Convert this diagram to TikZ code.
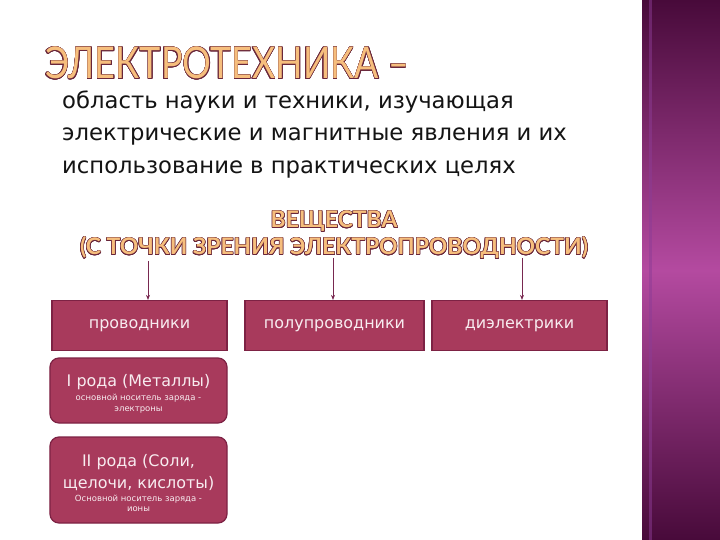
\documentclass[tikz,border=0pt]{standalone}
\usepackage{fontspec}
\setmainfont{DejaVu Sans}
\newfontfamily\titlefont{Lato}
\usepackage{contour}
\contourlength{0.55pt}
\usetikzlibrary{arrows.meta}
\definecolor{bandDark}{RGB}{72,10,58}
\definecolor{bandLight}{RGB}{180,74,160}
\definecolor{bandLine}{RGB}{140,60,150}
\definecolor{boxFill}{RGB}{168,58,92}
\definecolor{boxEdge}{RGB}{125,34,68}
\definecolor{arrowCol}{RGB}{120,40,80}
\definecolor{boxText}{RGB}{248,236,240}
\definecolor{titleFill}{RGB}{246,190,125}
\definecolor{titleEdge}{RGB}{105,38,58}
\definecolor{bodyText}{RGB}{20,20,20}
\tikzset{
  bodyline/.style={anchor=base west, inner sep=0, font=\fontsize{22.8}{26}\selectfont, text=bodyText},
  topbox/.style={draw=boxEdge, line width=1.2pt, fill=boxFill, minimum width=175bp, minimum height=50bp, inner sep=0, text=boxText, font=\fontsize{16}{20}\selectfont},
  lowbox/.style={draw=boxEdge, line width=1.2pt, fill=boxFill, rounded corners=9bp, minimum width=177bp, inner sep=0},
  bigtxt/.style={anchor=base, inner sep=0, text=boxText, font=\fontsize{16}{20}\selectfont},
  smalltxt/.style={anchor=base, inner sep=0, text=boxText, font=\fontsize{8.5}{10}\selectfont},
  conn/.style={draw=arrowCol, line width=0.8pt, -{Stealth[length=5bp,width=4bp]}},
  headtxt/.style={anchor=base, inner sep=0, font=\titlefont\bfseries\fontsize{23}{26}\selectfont},
}
\newcommand{\outl}[1]{\contour{titleEdge}{\textcolor{titleFill}{#1}}}
\begin{document}
\begin{tikzpicture}[x=1bp,y=-1bp]
\useasboundingbox (0,0) rectangle (720,540);
\fill[white] (0,0) rectangle (720,540);
% right band
\shade[top color=bandDark, bottom color=bandLight] (642,0) rectangle (720,270.5);
\shade[top color=bandLight, bottom color=bandDark] (642,270) rectangle (720,540);
\fill[bandLine, opacity=0.5] (648.5,0) rectangle (651.5,540);
% title
\node[anchor=base west, inner sep=0, font=\titlefont\fontsize{44}{48}\selectfont] (title) at (45,79) {\scalebox{0.82}[1]{\outl{ЭЛЕКТРОТЕХНИКА –}}};
% body
\node[bodyline] (l1) at (62,109) {область науки и техники, изучающая};
\node[bodyline] (l2) at (62,141) {электрические и магнитные явления и их};
\node[bodyline] (l3) at (62,174) {использование в практических целях};
% heading
\node[headtxt] (h1) at (334,228) {\outl{ВЕЩЕСТВА}};
\node[headtxt] (h2) at (334,255) {\outl{(С ТОЧКИ ЗРЕНИЯ ЭЛЕКТРОПРОВОДНОСТИ)}};
% top boxes
\node[topbox] (p1) at (139.5,325.5) {проводники};
\node[topbox, minimum width=179bp] (p2) at (334.5,325.5) {полупроводники};
\node[topbox] (p3) at (519.5,325.5) {диэлектрики};
% arrows
\coordinate (a1) at (148,261);
\coordinate (a2) at (333,258);
\coordinate (a3) at (522,258);
\draw[conn] (a1) -- (a1 |- p1.north);
\draw[conn] (a2) -- (a2 |- p2.north);
\draw[conn] (a3) -- (a3 |- p3.north);
% lower boxes
\node[lowbox, minimum height=65bp] (m1) at (138.5,390.5) {};
\node[bigtxt] (m1a) at (138.5,386) {I рода (Металлы)};
\node[smalltxt] (m1b) at (138.5,400) {основной носитель заряда -};
\node[smalltxt] (m1c) at (138.5,411) {электроны};
\node[lowbox, minimum height=86bp] (m2) at (138.5,480) {};
\node[bigtxt] (m2a) at (138.5,466) {II рода (Соли,};
\node[bigtxt] (m2b) at (138.5,488) {щелочи, кислоты)};
\node[smalltxt] (m2c) at (138.5,501) {Основной носитель заряда -};
\node[smalltxt] (m2d) at (138.5,511) {ионы};
\end{tikzpicture}
\end{document}
